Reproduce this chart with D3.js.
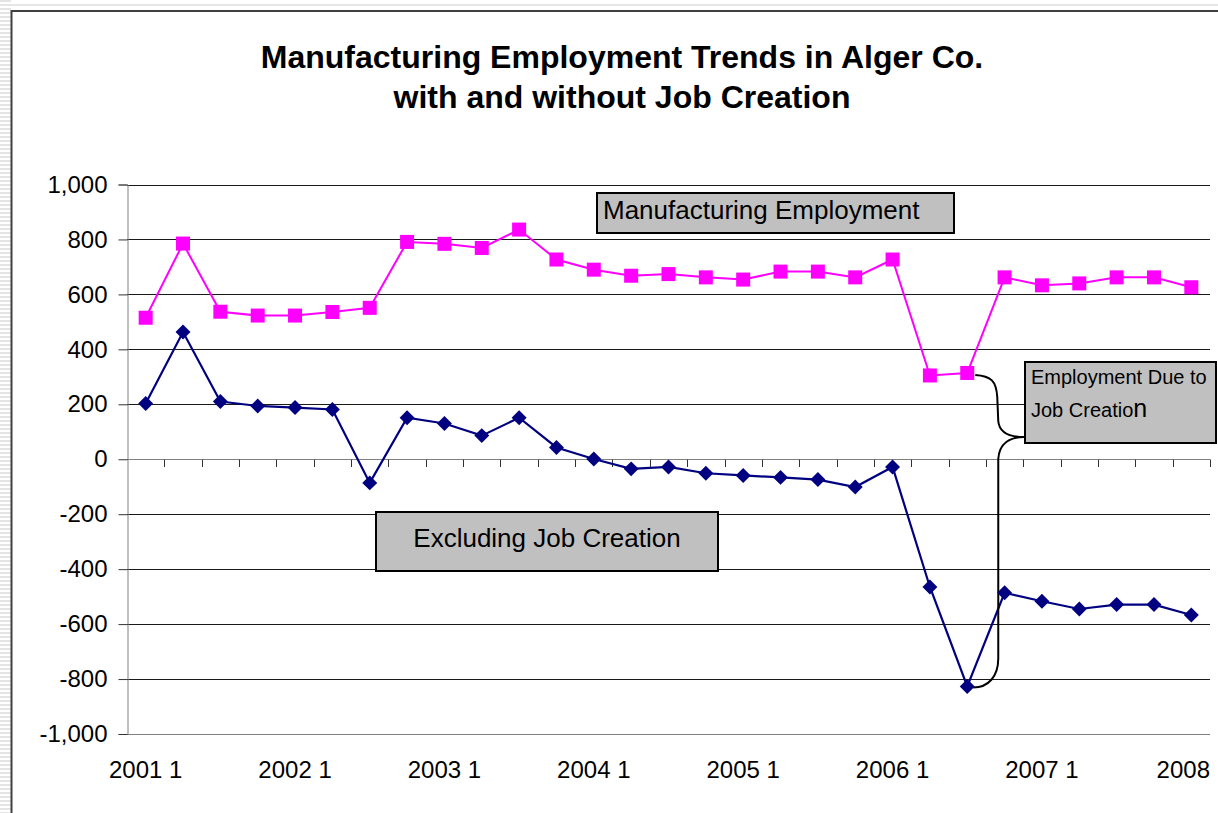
<!DOCTYPE html>
<html>
<head>
<meta charset="utf-8">
<script src="https://cdn.jsdelivr.net/npm/d3@7"></script>
<style>
  html, body { margin: 0; padding: 0; background: #fff; }
  svg { display: block; font-family: "Liberation Sans", Arial, sans-serif; }
</style>
</head>
<body>
<svg id="chart" width="1218" height="813"></svg>
<script>
// ---- data ----
const categories = [
  "2001 1","2001 2","2001 3","2001 4",
  "2002 1","2002 2","2002 3","2002 4",
  "2003 1","2003 2","2003 3","2003 4",
  "2004 1","2004 2","2004 3","2004 4",
  "2005 1","2005 2","2005 3","2005 4",
  "2006 1","2006 2","2006 3","2006 4",
  "2007 1","2007 2","2007 3","2007 4",
  "2008 1"
];
const manufacturingEmployment = [
  515, 785, 537, 523,
  523, 536, 551, 791,
  784, 769, 836, 727,
  690, 668, 674, 662,
  654, 683, 683, 662,
  727, 305, 314, 662,
  633, 640, 662, 662,
  626
];
const excludingJobCreation = [
  203, 463, 210, 194,
  188, 181, -86, 151,
  130, 86, 151, 43,
  1, -35, -28, -51,
  -59, -66, -74, -101,
  -28, -465, -827, -486,
  -517, -545, -529, -529,
  -567
];
const xTickCategories = ["2001 1","2002 1","2003 1","2004 1","2005 1","2006 1","2007 1","2008 1"];
const xTickLabels     = ["2001 1","2002 1","2003 1","2004 1","2005 1","2006 1","2007 1","2008"];
const yTicks = [-1000,-800,-600,-400,-200,0,200,400,600,800,1000];
const titleLines = ["Manufacturing Employment Trends in Alger Co.", "with and without Job Creation"];

// ---- drawing ----
(function () {
const svg = d3.select("#chart");
const W = 1218, H = 813;

// page background: striped left margin, light top band
const defs = svg.append("defs");
const pat = defs.append("pattern").attr("id","stripes").attr("width",11).attr("height",4)
  .attr("patternUnits","userSpaceOnUse");
pat.append("rect").attr("width",11).attr("height",4).attr("fill","#fff");
pat.append("rect").attr("width",11).attr("height",2).attr("fill","#e4e4e4");
svg.append("rect").attr("x",0).attr("y",0).attr("width",11).attr("height",H).attr("fill","url(#stripes)");
svg.append("rect").attr("x",0).attr("y",4).attr("width",W).attr("height",2).attr("fill","#e6e6e6");
// chart area frame
svg.append("path").attr("d",`M11.5,${H} L11.5,11 L${W},11`)
  .attr("fill","none").attr("stroke","#404040").attr("stroke-width",2);

const pL = 127, pR = 1210, pT = 184.5, pB = 734;
const x = d3.scaleBand().domain(categories).range([pL, pR]).padding(0);
const bw = x.bandwidth();
const cx = c => x(c) + bw / 2;
const y = d3.scaleLinear().domain([-1000, 1000]).range([pB, pT]);

// title
svg.append("g").selectAll("text").data(titleLines).join("text")
  .attr("x", 622).attr("y", (d,i) => 68 + i*40)
  .attr("text-anchor","middle").attr("font-weight","bold").attr("font-size",32)
  .attr("fill","#000").text(d => d);

// gridlines
svg.append("g").selectAll("line").data(yTicks).join("line")
  .attr("x1", pL).attr("x2", pR)
  .attr("y1", d => Math.round(y(d)) + 0.5).attr("y2", d => Math.round(y(d)) + 0.5)
  .attr("stroke", d => (d === -1000 || d === 0) ? "#808080" : "#1a1a1a")
  .attr("stroke-width",1);

// y axis
const fmt = d3.format(",");
const yAxis = d3.axisLeft(y).tickValues(yTicks).tickSize(9).tickPadding(11)
  .tickFormat(d => fmt(d).replace("\u2212", "-"));
const gy = svg.append("g").attr("transform",`translate(${pL+0.5},0)`).call(yAxis);
gy.select(".domain").attr("stroke","#808080");
gy.selectAll(".tick line").attr("stroke","#333");
gy.selectAll(".tick text").attr("font-size",24).attr("font-family","Liberation Sans, Arial, sans-serif")
  .attr("fill","#000");

// category tick marks on zero line
const boundaries = categories.map(c => x(c)).concat([pR]);
svg.append("g").selectAll("line").data(boundaries.slice(1)).join("line")
  .attr("x1", d => Math.round(d)+0.5).attr("x2", d => Math.round(d)+0.5)
  .attr("y1", Math.round(y(0))+0.5).attr("y2", Math.round(y(0))+8)
  .attr("stroke","#333");

// x labels (last one kept inside the plot's right edge)
const xl = svg.append("g").selectAll("text").data(xTickCategories).join("text")
  .attr("x", d => cx(d)).attr("y", 778)
  .attr("text-anchor","middle").attr("font-size",24).attr("fill","#000")
  .text((d,i) => xTickLabels[i]);
xl.each(function () {
  const b = this.getBBox();
  if (b.x + b.width > pR) d3.select(this).attr("x", +d3.select(this).attr("x") - (b.x + b.width - pR));
});

// lines
const line = d3.line().x((d,i) => cx(categories[i])).y(d => y(d));
svg.append("path").datum(manufacturingEmployment).attr("d", line)
  .attr("fill","none").attr("stroke","#ff00ff").attr("stroke-width",2);
svg.append("path").datum(excludingJobCreation).attr("d", line)
  .attr("fill","none").attr("stroke","#000080").attr("stroke-width",2.2);

// brace annotation: from the pink 2006Q3 point to the blue 2006Q3 point
const bc = categories[22];
const px = cx(bc), yT = y(manufacturingEmployment[22]), yB = y(excludingJobCreation[22]);
const bx = px + 31, tipX = 1024, tipY = 437;
const brace = `M${px+8},${yT+2} C${px+24},${yT+3} ${bx-2},${yT+8} ${bx-1},${yT+24}
  L${bx},${tipY-16} C${bx+1},${tipY-4} ${bx+12},${tipY} ${tipX},${tipY}
  C${bx+12},${tipY} ${bx+1},${tipY+6} ${bx},${tipY+22}
  L${bx},${yB-28} C${bx},${yB-10} ${bx-10},${yB+1} ${px+6},${yB+1}`;
svg.append("path").attr("d", brace).attr("fill","none").attr("stroke","#000").attr("stroke-width",2);

// markers
svg.append("g").selectAll("rect").data(manufacturingEmployment).join("rect")
  .attr("x", (d,i) => cx(categories[i]) - 7).attr("y", d => y(d) - 7)
  .attr("width",14).attr("height",14).attr("fill","#ff00ff");
svg.append("g").selectAll("path").data(excludingJobCreation).join("path")
  .attr("d", d3.symbol().type(d3.symbolSquare).size(112))
  .attr("transform", (d,i) => `translate(${cx(categories[i])},${y(d)}) rotate(45)`)
  .attr("fill","#000080");

// annotation boxes
function box(x0, y0, w, h) {
  svg.append("rect").attr("x",x0).attr("y",y0).attr("width",w).attr("height",h)
    .attr("fill","#c0c0c0").attr("stroke","#000").attr("stroke-width",2);
}
box(597, 193, 357, 40);
svg.append("text").attr("x",603).attr("y",219).attr("font-size",26).attr("fill","#000")
  .text("Manufacturing Employment");

box(376, 512, 342, 59);
svg.append("text").attr("x",547).attr("y",547).attr("text-anchor","middle")
  .attr("font-size",26).attr("fill","#000").text("Excluding Job Creation");

box(1025, 362, 191, 81);
svg.append("text").attr("x",1031).attr("y",384).attr("font-size",20).attr("fill","#000")
  .text("Employment Due to");
const t2 = svg.append("text").attr("x",1031).attr("y",417).attr("font-size",20).attr("fill","#000");
t2.append("tspan").text("Job Creatio");
t2.append("tspan").attr("font-size",25).text("n");
})();
</script>
</body>
</html>
